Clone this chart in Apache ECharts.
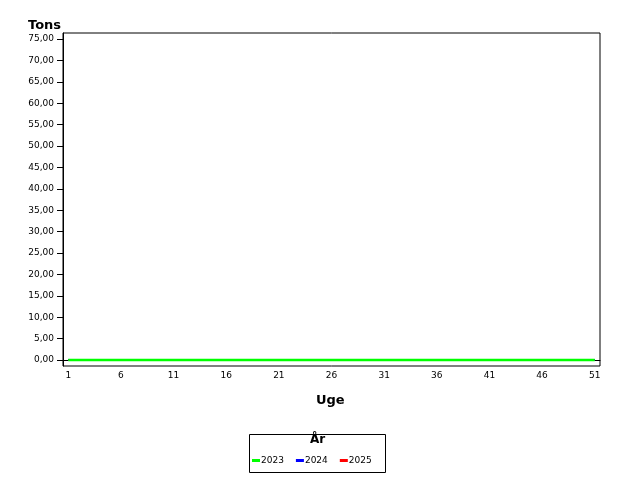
<!DOCTYPE html>
<html><head><meta charset="utf-8">
<script src="https://cdn.jsdelivr.net/npm/echarts@6/dist/echarts.min.js"></script>
<style>html,body{margin:0;padding:0;background:#fff}#c{width:640px;height:480px}</style>
</head><body><div id="c"></div>
<script>
const weeks = Array.from({length: 51}, (_, i) => String(i + 1));
const yTicks = [0,5,10,15,20,25,30,35,40,45,50,55,60,65,70,75];
const s2023 = [0,0,0,0,0,0,0,0,0,0,0,0,0,0,0,0,0,0,0,0,0,0,0,0,0,0,0,0,0,0,0,0,0,0,0,0,0,0,0,0,0,0,0,0,0,0,0,0,0,0,0];
const s2024 = [0,0,0,0,0,0,0,0,0,0,0,0,0,0,0,0,0,0,0,0,0,0,0,0,0,0,0,0,0,0,0,0,0,0,0,0,0,0,0,0,0,0,0,0,0,0,0,0,0,0,0];
const s2025 = [0,0,0,0,0,0,0,0,0,0,0,0,0,0,0,0,0,0,0,0,0,0,0,0,0,0,0,0,0,0,0,0,0,0,0,0,0,0,0,0,0,0,0,0,0,0,0,0,0,0,0];
const F = 'DejaVu Sans, Verdana, sans-serif';
const chart = echarts.init(document.getElementById('c'));
chart.setOption({
  animation: false,
  backgroundColor: '#fff',
  grid: {left: 63, right: 40, top: 33, bottom: 114, show: true, borderColor: '#000', borderWidth: 1, backgroundColor: 'transparent'},
  xAxis: {
    type: 'category', data: weeks, boundaryGap: true,
    axisLine: {lineStyle: {color: '#000', width: 1}},
    axisTick: {alignWithLabel: true, interval: 4, length: 6, lineStyle: {color: '#000'}},
    axisLabel: {interval: 4, margin: 5, color: '#000', fontSize: 9, fontFamily: F},
    splitLine: {show: false}
  },
  yAxis: {
    type: 'value', min: -1.4, max: 76.4,
    axisLine: {show: true, lineStyle: {color: '#000', width: 1}},
    axisTick: {show: true, length: 6, customValues: yTicks, lineStyle: {color: '#000'}},
    axisLabel: {customValues: yTicks, margin: 9, color: '#000', fontSize: 9, fontFamily: F,
      formatter: v => v.toFixed(2).replace('.', ',')},
    splitLine: {show: false}
  },
  legend: {
    left: 252, top: 456, itemWidth: 8, itemHeight: 3, itemGap: 12, icon: 'rect',
    padding: 0,
    textStyle: {fontSize: 9, fontFamily: F, color: '#000', padding: [0,0,0,-4]},
    data: ['2023', '2024', '2025']
  },
  graphic: [
    {type: 'text', left: 28, top: 19, style: {text: 'Tons', font: 'bold 13px ' + F, fill: '#000'}},
    {type: 'text', left: 316, top: 394, style: {text: 'Uge', font: 'bold 13px ' + F, fill: '#000'}},
    {type: 'rect', shape: {x: 249.5, y: 434.5, width: 136, height: 38}, style: {fill: 'none', stroke: '#000', lineWidth: 1}},
    {type: 'text', left: 310, top: 434, style: {text: 'År', font: 'bold 12px ' + F, fill: '#000'}}
  ],
  series: [
    {name: '2025', type: 'line', data: s2025, showSymbol: false, color: '#ff0000', lineStyle: {width: 2}, z: 2},
    {name: '2024', type: 'line', data: s2024, showSymbol: false, color: '#0000ff', lineStyle: {width: 2}, z: 3},
    {name: '2023', type: 'line', data: s2023, showSymbol: false, color: '#00ff00', lineStyle: {width: 2.5}, z: 4}
  ]
});
</script></body></html>
